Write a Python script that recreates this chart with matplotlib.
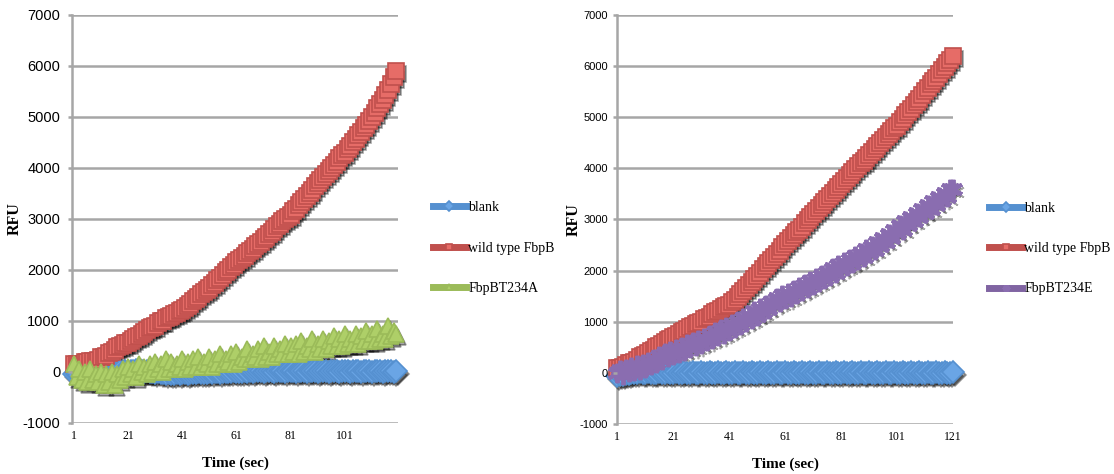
"""
Fluorescence over time for FbpB mutants
Two panels, Excel style line charts with markers
"""

import matplotlib
matplotlib.use("Agg")
from matplotlib import pyplot as plt
from matplotlib.lines import Line2D
from matplotlib.transforms import offset_copy
import numpy as np

plt.rcParams["axes.unicode_minus"] = False

# ---- left panel (FbpBT234A), 120 readings ----
blank_a = [
    -50, -40, -60, -30, -50, -20, -40, -30, -20, -30,
    -20, -10, -30, 0, -20, 10, -10, 20, 0, 10,
    0, 20, 10, 30, 10, 20, 0, 10, -10, 0,
    -20, -10, -30, -20, -40, -30, -50, -40, -30, -40,
    -30, -20, -40, -30, -20, -30, -10, -20, -30, -20,
    -10, -20, 0, -10, -20, -10, 0, -10, 0, 10,
    0, -10, 0, 10, 0, 10, 0, 10, 20, 10,
    0, 10, 20, 10, 0, 10, 20, 10, 0, 10,
    20, 10, 0, 10, 20, 10, 0, 10, 20, 10,
    0, 10, 20, 10, 0, 10, 20, 10, 0, 10,
    20, 10, 0, 10, 20, 10, 0, 10, 20, 10,
    0, 10, 20, 10, 0, 10, 20, 10, 0, 10,
]
wild_a = [
    150, 150, 150, 160, 200, 200, 210, 220, 220, 240,
    300, 300, 310, 380, 400, 420, 480, 500, 520, 560,
    570, 600, 650, 680, 700, 740, 780, 820, 860, 880,
    900, 950, 1000, 1000, 1050, 1080, 1100, 1130, 1160, 1190,
    1215, 1260, 1300, 1340, 1380, 1420, 1460, 1520, 1560, 1600,
    1650, 1700, 1740, 1800, 1840, 1900, 1960, 2000, 2050, 2100,
    2150, 2200, 2240, 2280, 2320, 2360, 2400, 2460, 2500, 2550,
    2600, 2640, 2700, 2750, 2800, 2850, 2900, 2950, 3000, 3040,
    3080, 3150, 3200, 3260, 3320, 3380, 3440, 3500, 3560, 3640,
    3700, 3760, 3820, 3880, 3940, 4000, 4060, 4120, 4180, 4240,
    4290, 4360, 4420, 4500, 4560, 4640, 4700, 4780, 4840, 4920,
    5000, 5080, 5160, 5240, 5320, 5420, 5520, 5640, 5780, 5900,
]
mutant_a = [
    150, -100, 50, -150, 0, -200, 50, -150, -50, -200,
    0, -250, -50, -200, 0, -250, -50, -150, 50, -100,
    100, -50, 50, -100, 150, 0, 100, -50, 150, 0,
    200, 50, 150, 0, 250, 50, 200, 50, 150, 100,
    250, 50, 200, 100, 250, 100, 300, 100, 200, 150,
    300, 100, 250, 150, 350, 150, 250, 200, 350, 150,
    400, 200, 300, 250, 450, 250, 350, 300, 450, 250,
    500, 300, 400, 300, 500, 350, 450, 350, 550, 350,
    500, 400, 550, 350, 600, 400, 500, 450, 650, 400,
    550, 450, 650, 450, 600, 500, 700, 500, 650, 500,
    750, 550, 650, 550, 750, 550, 700, 600, 800, 600,
    750, 600, 850, 650, 750, 650, 900, 700, 800, 750,
]

# ---- right panel (FbpBT234E), 121 readings ----
blank_e = [
    -60, -50, -40, -30, -20, -10, 0, 0, 10, 0,
    0, 10, 0, -10, 0, 10, 0, 0, 10, 0,
    0, 10, 0, 0, 10, 0, 0, 10, 0, 0,
    10, 0, 0, 10, 0, 0, 10, 0, 0, 10,
    0, 0, 10, 0, 0, 10, 0, 0, 10, 0,
    0, 10, 0, 0, 10, 0, 0, 10, 0, 0,
    10, 0, 0, 10, 0, 0, 10, 0, 0, 10,
    0, 0, 10, 0, 0, 10, 0, 0, 10, 0,
    0, 10, 0, 0, 10, 0, 0, 10, 0, 0,
    10, 0, 0, 10, 0, 0, 10, 0, 0, 10,
    0, 0, 10, 0, 0, 10, 0, 0, 10, 0,
    0, 10, 0, 0, 10, 0, 0, 10, 0, 0,
    10,
]
wild_e = [
    100, 100, 120, 150, 200, 200, 220, 260, 300, 320,
    350, 380, 420, 450, 500, 520, 560, 600, 640, 670,
    700, 720, 760, 800, 820, 860, 900, 920, 950, 980,
    1000, 1050, 1080, 1100, 1150, 1180, 1200, 1240, 1280, 1300,
    1330, 1380, 1420, 1480, 1540, 1600, 1660, 1720, 1780, 1840,
    1900, 1960, 2020, 2080, 2140, 2200, 2260, 2320, 2380, 2450,
    2510, 2570, 2630, 2690, 2750, 2800, 2860, 2920, 2980, 3040,
    3100, 3160, 3220, 3280, 3340, 3400, 3460, 3520, 3580, 3640,
    3690, 3750, 3800, 3860, 3920, 3980, 4040, 4100, 4150, 4200,
    4250, 4310, 4370, 4430, 4490, 4550, 4600, 4660, 4720, 4780,
    4830, 4900, 4960, 5030, 5090, 5160, 5230, 5290, 5360, 5430,
    5500, 5570, 5640, 5700, 5770, 5840, 5910, 5980, 6050, 6120,
    6200,
]
mutant_e = [
    0, 60, -40, 80, 20, 120, 40, 150, 60, 180,
    100, 220, 150, 280, 200, 330, 250, 380, 300, 420,
    350, 470, 380, 500, 430, 560, 480, 600, 520, 640,
    560, 690, 620, 740, 660, 790, 720, 850, 760, 900,
    820, 950, 880, 1010, 940, 1080, 1000, 1130, 1060, 1200,
    1120, 1260, 1190, 1320, 1250, 1390, 1320, 1460, 1380, 1530,
    1450, 1560, 1480, 1620, 1540, 1680, 1600, 1740, 1660, 1800,
    1720, 1860, 1780, 1920, 1840, 1980, 1900, 2040, 1960, 2110,
    2030, 2160, 2090, 2220, 2140, 2290, 2200, 2350, 2270, 2430,
    2340, 2480, 2410, 2560, 2480, 2640, 2560, 2720, 2640, 2800,
    2730, 2880, 2800, 2960, 2880, 3040, 2960, 3120, 3050, 3200,
    3130, 3280, 3210, 3360, 3290, 3440, 3370, 3520, 3440, 3600,
    3590,
]

X_TICKS = [1, 21, 41, 61, 81, 101, 121]
Y_TICKS = list(range(-1000, 7001, 1000))

BLUE = ("#5590D0", "#6AA5E5")
RED = ("#C0504D", "#E66C67")
GREEN = ("#9BBB59", "#AECF68")
PURPLE = ("#8064A2", "#8A6DB0")

GRID_COLOR = "#A6A6A6"
SANS = ["Liberation Sans", "DejaVu Sans"]
SERIF = ["Liberation Serif", "DejaVu Serif"]
STAR = (6, 2, 0)


def series_style(colors, marker, size):
    line, face = colors
    style = dict(color=line, lw=4, marker=marker, ms=size,
                 markerfacecolor=face, markeredgecolor=line,
                 markeredgewidth=1.2)
    if marker == STAR:
        style.update(markeredgecolor=face, markeredgewidth=2.8)
    return style


def draw_panel(fig, ax, series, xmin, xmax, ytick_size, ypad):
    # grid drawn by hand so the tick labels can sit above the markers
    for y in Y_TICKS:
        ax.axhline(y, color=GRID_COLOR, lw=1.8, zorder=0.5)

    # soft drop shadow, Excel style
    shade = offset_copy(ax.transData, fig=fig, x=2, y=-3, units="dots")
    for values, label, colors, marker, size in series:
        x = np.arange(1, len(values) + 1)
        ax.plot(x, values, color="black", alpha=0.35, lw=4, marker=marker,
                ms=size, markeredgewidth=1.2, transform=shade,
                clip_on=False, zorder=1.5)
    for i, (values, label, colors, marker, size) in enumerate(series):
        x = np.arange(1, len(values) + 1)
        ax.plot(x, values, label=label, clip_on=False, zorder=2 + i,
                **series_style(colors, marker, size))

    ax.set_xlim(xmin, xmax)
    ax.set_ylim(-1000, 7000)
    ax.set_yticks(Y_TICKS)
    ax.set_xticks([t for t in X_TICKS if t <= xmax])
    ax.yaxis.set_zorder(10)
    for side in ("top", "right", "bottom"):
        ax.spines[side].set_visible(False)
    ax.spines["left"].set_color(GRID_COLOR)
    ax.spines["left"].set_linewidth(1.8)
    ax.spines["left"].set_zorder(0.6)
    ax.tick_params(axis="y", length=3, width=1.8, color=GRID_COLOR, pad=ypad)
    ax.tick_params(axis="x", length=0, pad=5)
    for lab in ax.get_yticklabels():
        lab.set_family(SANS)
        lab.set_fontsize(ytick_size)
    for lab in ax.get_xticklabels():
        lab.set_family(SERIF)
        lab.set_fontsize(8.5)

    ax.set_xlabel("Time (sec)", family=SERIF, fontweight="bold", fontsize=11)
    ax.xaxis.set_label_coords(0.5, -0.083)
    ax.set_ylabel("RFU", family=SERIF, fontweight="bold", fontsize=11.5)

    handles = []
    for values, label, colors, marker, size in series:
        st = series_style(colors, marker, 5)
        st["lw"] = 5
        handles.append(Line2D([], [], label=label, **st))
    ax.legend(handles=handles, loc="upper left", bbox_to_anchor=(1.107, 0.543),
              frameon=False, borderaxespad=0, borderpad=0,
              handlelength=2.4, handletextpad=0.15, labelspacing=1.97,
              prop={"family": SERIF, "size": 10})


def main():
    fig = plt.figure(figsize=(11.14, 4.74), dpi=100)
    ax_a = fig.add_axes([0.0646, 0.1076, 0.2926, 0.8618])
    ax_e = fig.add_axes([0.5539, 0.1055, 0.3016, 0.8635])

    draw_panel(fig, ax_a, [
        (blank_a, "blank", BLUE, "D", 11),
        (wild_a, "wild type FbpB", RED, "s", 12),
        (mutant_a, "FbpBT234A", GREEN, "^", 12),
    ], 0.3, 120.6, 10.5, 5.5)
    ax_a.yaxis.set_label_coords(-0.150, 0.5)

    draw_panel(fig, ax_e, [
        (blank_e, "blank", BLUE, "D", 11),
        (wild_e, "wild type FbpB", RED, "s", 12),
        (mutant_e, "FbpBT234E", PURPLE, STAR, 14),
    ], 0.9, 121, 8, 3.5)
    ax_e.yaxis.set_label_coords(-0.104, 0.5)

    fig.savefig("out.png", dpi=100)


if __name__ == "__main__":
    main()
